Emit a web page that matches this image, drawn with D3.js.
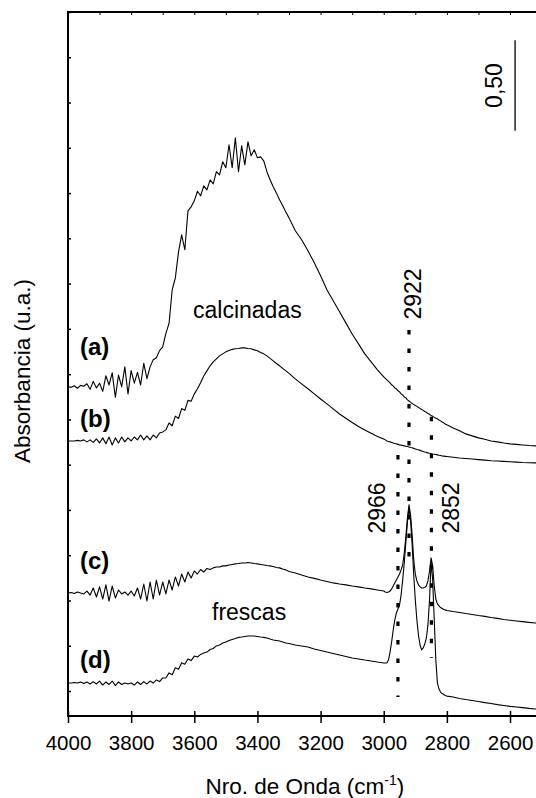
<!DOCTYPE html>
<html><head><meta charset="utf-8">
<script src="https://cdn.jsdelivr.net/npm/d3@7/dist/d3.min.js"></script>
<style>html,body{margin:0;padding:0;background:#fff;}svg{display:block;}</style>
</head><body>
<svg id="chart" width="536" height="798"></svg>
<script>
const wavenumbers = [
4000,3990,3980,3970,3960,3950,3940,3930,3920,3910,
3900,3890,3880,3870,3860,3850,3840,3830,3820,3810,
3800,3790,3780,3770,3760,3750,3740,3730,3720,3710,
3700,3690,3680,3670,3660,3650,3640,3630,3620,3610,
3600,3590,3580,3570,3560,3550,3540,3530,3520,3510,
3500,3490,3480,3470,3460,3450,3440,3430,3420,3410,
3400,3390,3380,3370,3360,3350,3340,3330,3320,3310,
3300,
3280,3260,3240,3220,3200,3180,3160,3140,3120,3100,3080,3060,3040,3020,
3000,2995,2990,2985,2980,2975,2970,2965,2960,2955,2950,2945,2940,2935,2930,2925,2920,2915,2910,2905,
2900,2895,2890,2885,2880,2875,2870,2865,2860,2855,2850,2845,2840,2835,2830,2825,2820,2815,2810,2805,2800,
2780,2760,2740,2720,2700,2680,2660,2640,2620,2600,2580,2560,2540,2520,2500];

const serieA = [
1.680,1.677,1.686,1.672,1.688,1.683,1.697,1.666,1.710,1.674,
1.700,1.655,1.741,1.690,1.757,1.622,1.745,1.680,1.790,1.640,
1.770,1.700,1.760,1.690,1.810,1.725,1.790,1.830,1.840,1.880,
1.900,1.975,2.030,2.216,2.282,2.425,2.519,2.437,2.652,2.674,
2.707,2.760,2.735,2.790,2.768,2.823,2.801,2.868,2.850,2.923,
2.890,3.017,2.890,3.055,2.868,3.011,2.906,3.033,2.956,2.989,
2.945,2.950,2.928,2.868,2.823,2.785,2.751,2.713,2.680,2.646,
2.613,
2.542,2.492,2.431,2.365,2.293,2.216,2.155,2.094,2.033,1.972,1.917,1.862,1.818,1.774,
1.735,1.727,1.718,1.710,1.702,1.691,1.685,1.674,1.669,1.658,1.652,1.641,1.635,1.624,1.619,1.608,1.602,1.594,1.588,1.583,
1.577,1.572,1.566,1.561,1.555,1.550,1.544,1.539,1.533,1.528,1.522,1.517,1.511,1.507,1.503,1.497,1.492,1.486,1.481,1.475,1.470,
1.453,1.437,1.420,1.409,1.398,1.390,1.381,1.376,1.370,1.365,1.362,1.359,1.356,1.354,1.354];

const serieB = [
1.381,1.381,1.381,1.384,1.381,1.387,1.376,1.387,1.373,1.392,
1.370,1.398,1.365,1.403,1.359,1.398,1.370,1.403,1.376,1.398,
1.381,1.403,1.387,1.414,1.387,1.409,1.387,1.414,1.398,1.425,
1.431,1.442,1.480,1.465,1.518,1.505,1.560,1.550,1.605,1.600,
1.641,1.669,1.702,1.740,1.768,1.796,1.818,1.834,1.851,1.862,
1.873,1.881,1.887,1.890,1.892,1.895,1.895,1.892,1.890,1.884,
1.879,1.870,1.862,1.851,1.837,1.823,1.809,1.796,1.782,1.768,
1.754,
1.724,1.696,1.669,1.641,1.613,1.586,1.558,1.530,1.506,1.483,1.461,1.442,1.423,1.406,
1.392,1.387,1.381,1.378,1.376,1.373,1.370,1.367,1.365,1.362,1.359,1.358,1.356,1.354,1.352,1.350,1.348,1.345,1.343,1.340,
1.337,1.334,1.332,1.329,1.326,1.323,1.320,1.318,1.315,1.313,1.312,1.309,1.308,1.306,1.304,1.302,1.301,1.298,1.297,1.296,1.295,
1.291,1.287,1.284,1.281,1.278,1.275,1.272,1.270,1.268,1.266,1.264,1.262,1.261,1.260,1.259];

const serieC = [
0.541,0.544,0.538,0.547,0.541,0.536,0.552,0.530,0.569,0.519,
0.575,0.508,0.586,0.497,0.580,0.514,0.558,0.536,0.547,0.530,
0.552,0.525,0.569,0.508,0.591,0.497,0.602,0.508,0.613,0.530,
0.602,0.536,0.613,0.558,0.630,0.580,0.646,0.602,0.657,0.624,
0.663,0.646,0.671,0.657,0.677,0.671,0.680,0.685,0.685,0.691,
0.691,0.696,0.699,0.702,0.704,0.707,0.707,0.710,0.707,0.704,
0.702,0.699,0.696,0.693,0.691,0.688,0.682,0.680,0.674,0.669,
0.660,
0.652,0.641,0.630,0.622,0.613,0.605,0.597,0.591,0.586,0.580,0.575,0.569,0.564,0.558,
0.552,0.547,0.544,0.547,0.552,0.564,0.580,0.597,0.613,0.630,0.646,0.669,0.696,0.762,0.851,0.956,1.028,0.972,0.862,0.724,
0.646,0.608,0.586,0.575,0.569,0.569,0.572,0.580,0.608,0.663,0.735,0.691,0.580,0.508,0.481,0.470,0.461,0.456,0.450,0.448,0.445,
0.439,0.434,0.428,0.423,0.417,0.412,0.406,0.401,0.395,0.391,0.387,0.383,0.379,0.376,0.372];

const serieD = [
0.044,0.044,0.047,0.044,0.050,0.041,0.050,0.039,0.052,0.039,
0.055,0.033,0.050,0.036,0.055,0.030,0.050,0.036,0.044,0.039,
0.044,0.033,0.050,0.036,0.052,0.039,0.055,0.044,0.061,0.052,
0.072,0.072,0.100,0.090,0.128,0.120,0.156,0.148,0.177,0.168,
0.193,0.188,0.202,0.210,0.215,0.229,0.235,0.249,0.254,0.265,
0.271,0.279,0.285,0.290,0.296,0.298,0.301,0.304,0.304,0.304,
0.301,0.298,0.296,0.293,0.287,0.282,0.279,0.276,0.271,0.265,
0.262,
0.254,0.249,0.243,0.232,0.224,0.215,0.207,0.199,0.191,0.182,0.177,0.171,0.166,0.160,
0.155,0.155,0.155,0.171,0.215,0.271,0.337,0.392,0.431,0.453,0.475,0.530,0.613,0.707,0.818,0.934,1.011,0.945,0.807,0.641,
0.503,0.392,0.309,0.254,0.227,0.238,0.260,0.293,0.365,0.503,0.713,0.613,0.392,0.171,0.044,0.011,-0.006,-0.014,-0.019,-0.025,-0.028,
-0.033,-0.041,-0.047,-0.052,-0.058,-0.064,-0.069,-0.075,-0.080,-0.085,-0.088,-0.092,-0.096,-0.099,-0.102];

const seriesLabels = ["(a)", "(b)", "(c)", "(d)"];
const groupLabels = ["calcinadas", "frescas"];
const xTickValues = [4000, 3800, 3600, 3400, 3200, 3000, 2800, 2600];
const xMinorTicks = [4000,3900,3800,3700,3600,3500,3400,3300,3200,3100,3000,2900,2800,2700,2600,2500];
const yTickValues = [0,0.25,0.5,0.75,1,1.25,1.5,1.75,2,2.25,2.5,2.75,3,3.25,3.5,3.75];
const markerLabels = ["2966", "2922", "2852"];
const markerPositions = [2955, 2920, 2849];
const markerTop = [1.304, 1.994, 1.514];
const markerBottom = [-0.033, 0.669, 0.182];
const scaleBarValue = 0.50;
const scaleBarLabel = "0,50";

(function () {
const FONT = "'Liberation Sans', Arial, Helvetica, sans-serif";
const svg = d3.select("#chart");
const L = 68, T = 12, B = 716, Rfull = 541.6;

const x = d3.scaleLinear().domain([4000, 2500]).range([L, Rfull]);
const y = d3.scaleLinear().domain([-0.138, 3.75]).range([B, T]);

svg.append("defs").append("clipPath").attr("id", "clip")
  .append("rect").attr("x", L).attr("y", T).attr("width", Rfull - L).attr("height", B - T);

// spectra
const line = d3.line().x((d, i) => x(wavenumbers[i])).y(d => y(d));
const plot = svg.append("g").attr("clip-path", "url(#clip)");
[serieA, serieB, serieC, serieD].forEach(s => {
  plot.append("path").datum(s).attr("d", line)
    .attr("fill", "none").attr("stroke", "#000").attr("stroke-width", 1.1)
    .attr("stroke-linejoin", "round");
});

// dotted marker lines
markerPositions.forEach((p, i) => {
  svg.append("line")
    .attr("x1", x(p)).attr("x2", x(p))
    .attr("y1", y(markerTop[i])).attr("y2", y(markerBottom[i]))
    .attr("stroke", "#000").attr("stroke-width", 3.2)
    .attr("stroke-dasharray", "4.5 14");
});

// marker labels (rotated)
const markerLabelPos = [
  {dx: -13, cy: 508},
  {dx: 12, cy: 294},
  {dx: 28, cy: 508}
];
markerLabels.forEach((t, i) => {
  const px = x(markerPositions[i]) + markerLabelPos[i].dx;
  const py = markerLabelPos[i].cy;
  svg.append("text").attr("transform", `translate(${px},${py}) rotate(-90)`)
    .attr("text-anchor", "middle").attr("font-family", FONT).attr("font-size", 23)
    .text(t);
});

// axes frame
const axisG = svg.append("g");
const bottomAxis = d3.axisBottom(x).tickValues(xTickValues).tickSize(7).tickFormat(d => d);
const bg = axisG.append("g").attr("transform", `translate(0,${B})`).call(bottomAxis);
bg.select(".domain").remove();
bg.selectAll(".tick line").attr("y1", -5).attr("stroke-width", 1.5);
bg.selectAll(".tick text").attr("font-family", FONT).attr("font-size", 20.5).attr("fill", "#000").attr("dy", null).attr("y", 34);

const topAxis = d3.axisTop(x).tickValues(xMinorTicks).tickSize(-3).tickFormat("");
const tg = axisG.append("g").attr("transform", `translate(0,${T})`).call(topAxis);
tg.select(".domain").remove();
tg.selectAll(".tick line").attr("stroke-width", 1);

const leftAxis = d3.axisLeft(y).tickValues(yTickValues).tickSize(-3).tickFormat("");
const lg = axisG.append("g").attr("transform", `translate(${L},0)`).call(leftAxis);
lg.select(".domain").remove();
lg.selectAll(".tick line").attr("stroke-width", 1.5);

axisG.append("path")
  .attr("d", `M${Rfull},${T}H${L}V${B}H${Rfull}`)
  .attr("fill", "none").attr("stroke", "#000").attr("stroke-width", 2);

// scale bar
const sbX = x(2584);
const sbBase = 3.094;
svg.append("line").attr("x1", sbX).attr("x2", sbX)
  .attr("y1", y(sbBase)).attr("y2", y(sbBase + scaleBarValue))
  .attr("stroke", "#000").attr("stroke-width", 1.3);
svg.append("text").attr("transform", `translate(${sbX - 13},${(y(sbBase) + y(sbBase + scaleBarValue)) / 2}) rotate(-90)`)
  .attr("text-anchor", "middle").attr("font-family", FONT).attr("font-size", 23)
  .text(scaleBarLabel);

// series labels
const labelPos = [[80, 355], [80, 427], [80, 569], [80, 668]];
seriesLabels.forEach((t, i) => {
  svg.append("text").attr("x", labelPos[i][0]).attr("y", labelPos[i][1])
    .attr("font-family", FONT).attr("font-size", 24).attr("font-weight", "bold")
    .text(t);
});

// group labels
const groupPos = [[193, 318], [212, 620]];
groupLabels.forEach((t, i) => {
  svg.append("text").attr("x", groupPos[i][0]).attr("y", groupPos[i][1])
    .attr("font-family", FONT).attr("font-size", 23).text(t);
});

// axis titles
const xt = svg.append("text").attr("x", (L + Rfull) / 2).attr("y", 794)
  .attr("text-anchor", "middle").attr("font-family", FONT).attr("font-size", 22.5);
xt.append("tspan").text("Nro. de Onda (cm");
xt.append("tspan").attr("font-size", 14).attr("dy", -9).text("-1");
xt.append("tspan").attr("dy", 9).text(")");

svg.append("text").attr("transform", `translate(30,371) rotate(-90)`)
  .attr("text-anchor", "middle").attr("font-family", FONT).attr("font-size", 22.5)
  .text("Absorbancia (u.a.)");
})();
</script>
</body></html>
